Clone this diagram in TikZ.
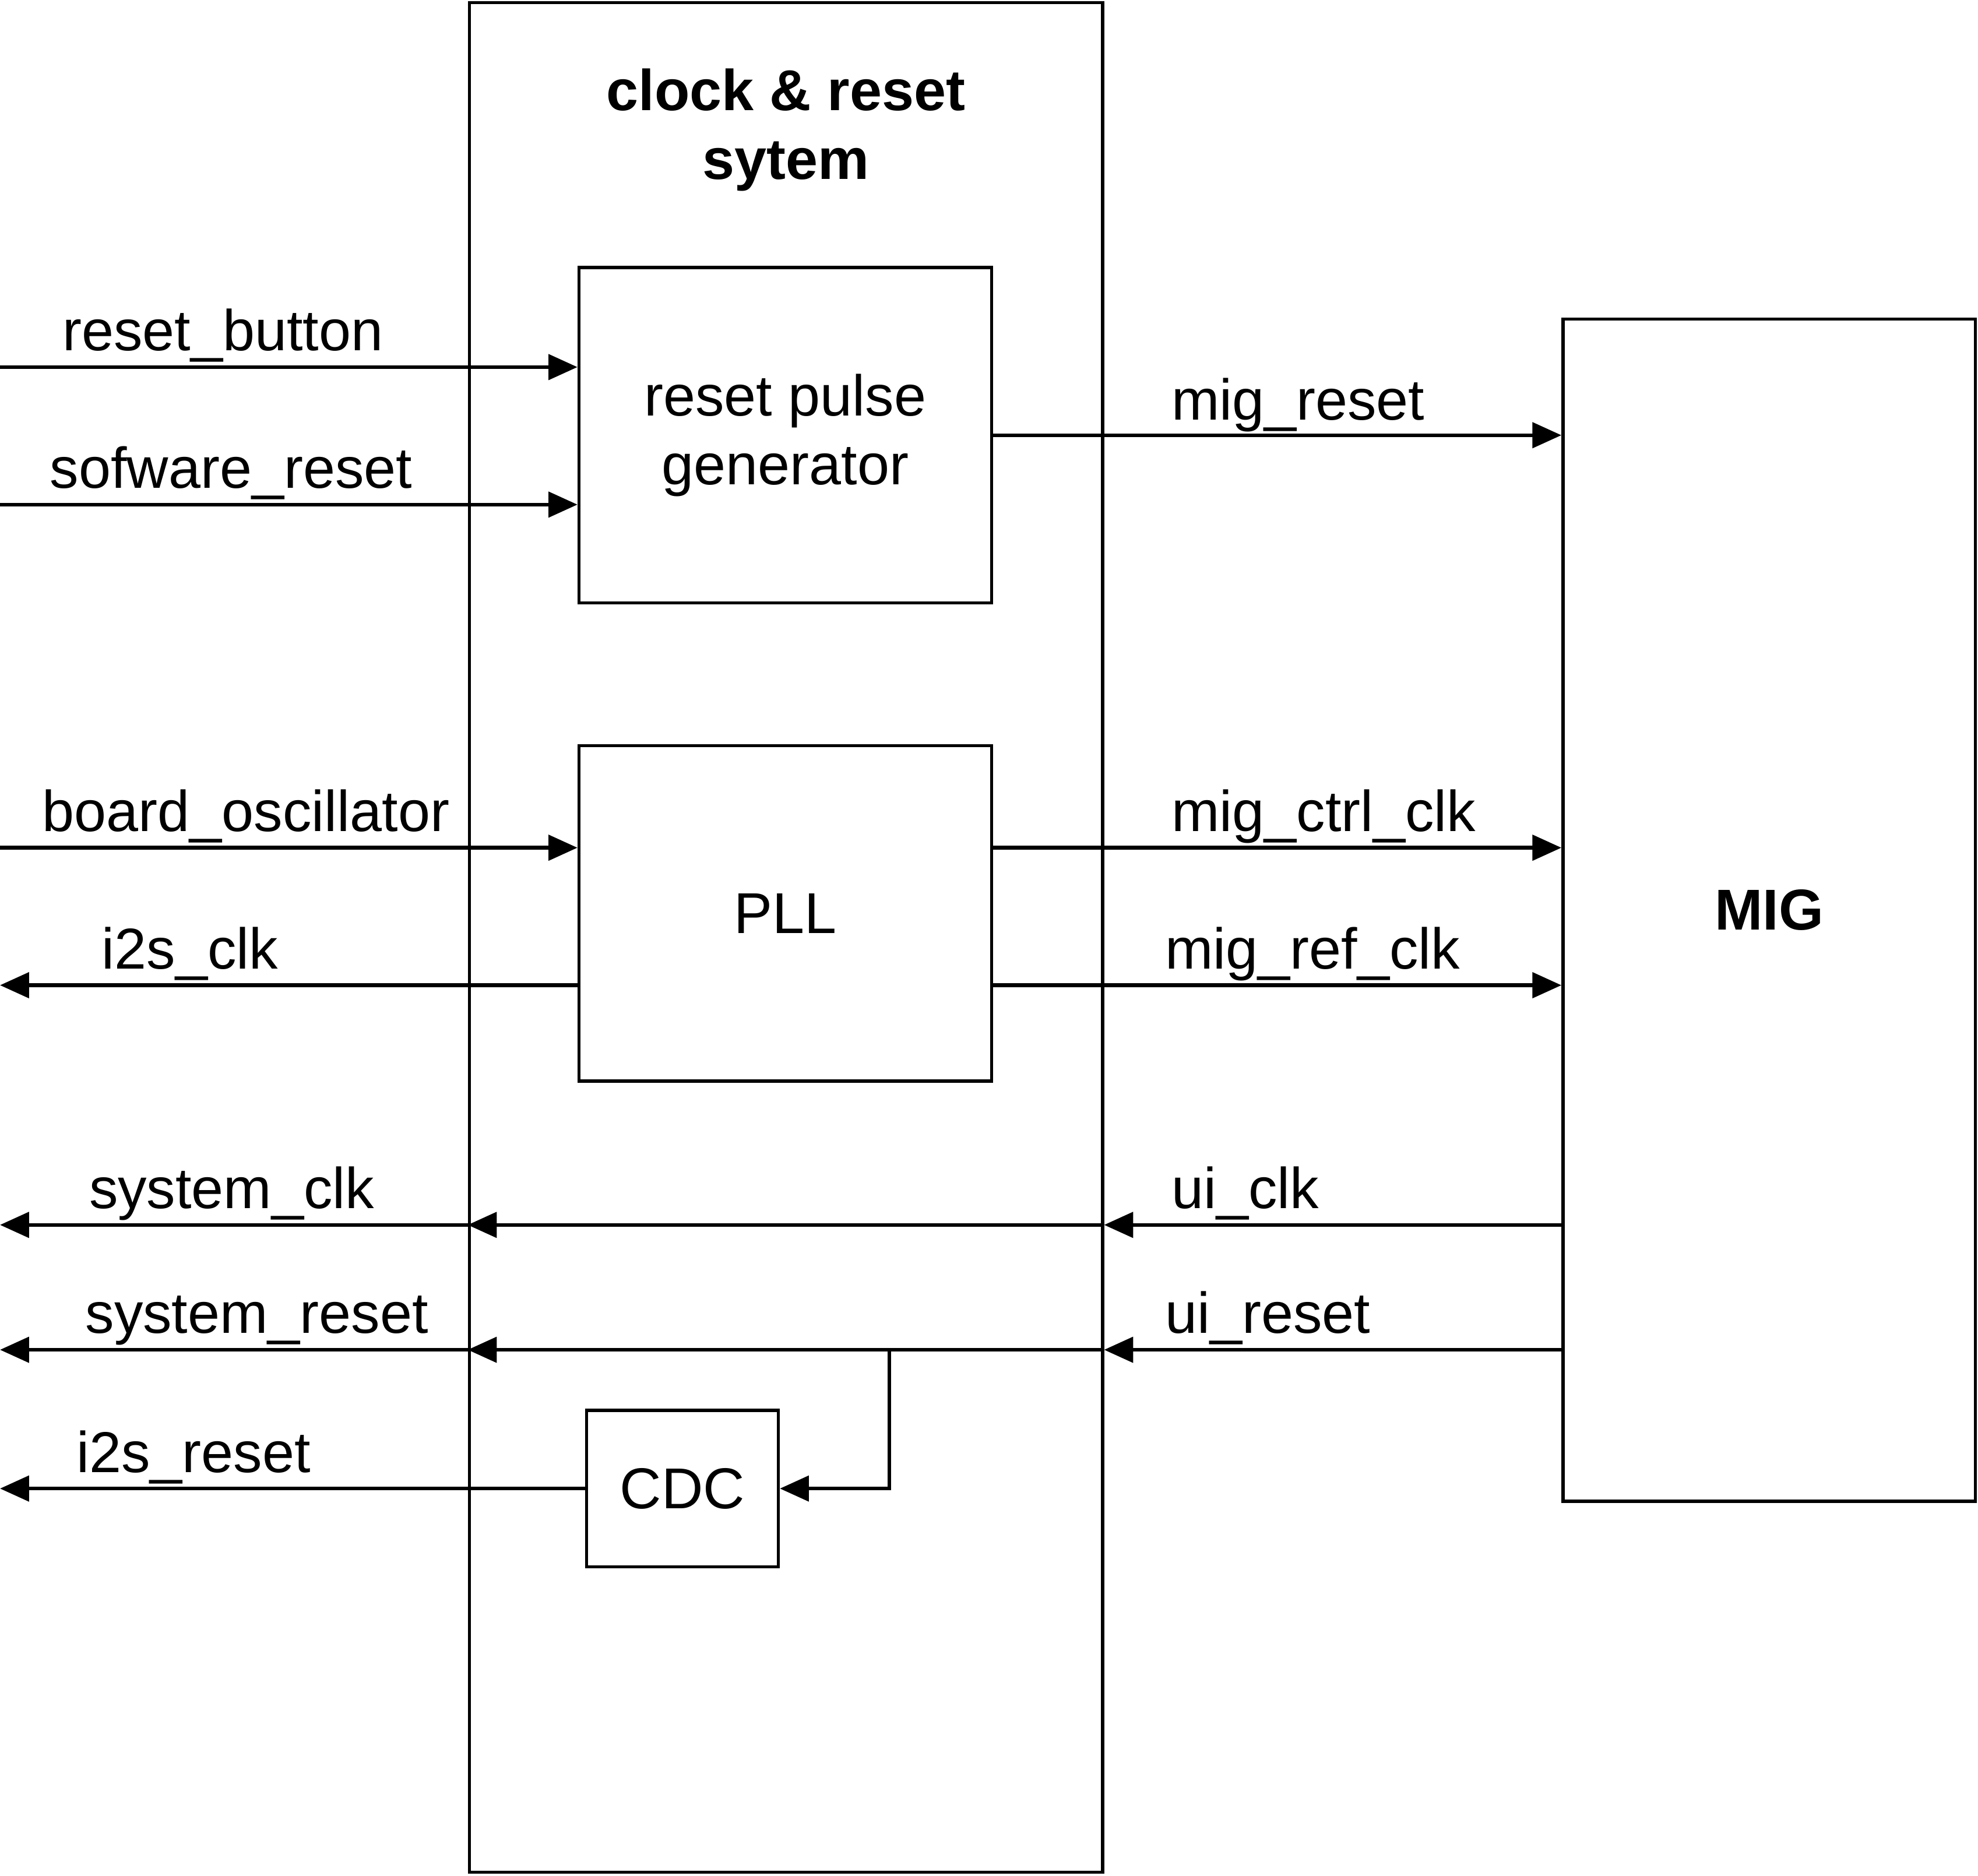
\documentclass[tikz,border=0pt]{standalone}
\usepackage{fontspec}
\setmainfont{Liberation Sans}
\usepackage{tikz}
\usetikzlibrary{arrows.meta, positioning}

\begin{document}
\begin{tikzpicture}[
    block/.style={rectangle, draw, line width=0.7pt, inner sep=0pt, align=center, font=\fontsize{13}{15.6}\selectfont},
    lbl/.style={anchor=base west, inner sep=0pt, font=\fontsize{13}{15.6}\selectfont},
    arrow/.style={-{Triangle[length=0.23cm, width=0.2cm]}, line width=0.85pt},
  ]
    \useasboundingbox (0,0) rectangle (15.68,-14.87);

    % Blocks
    \node[block, minimum width=5.02cm, minimum height=14.82cm] (sys) at (6.23,-7.43) {};
    \node[font=\fontsize{13}{15.6}\selectfont\bfseries, align=center] (title) at (6.23,-1.03) {clock \& reset\\sytem};
    \node[block, minimum width=3.27cm, minimum height=2.66cm] (rstgen) at (6.225,-3.45) {reset pulse\\generator};
    \node[block, minimum width=3.27cm, minimum height=2.66cm] (pll) at (6.225,-7.24) {PLL};
    \node[block, minimum width=1.52cm, minimum height=1.24cm] (cdc) at (5.41,-11.80) {CDC};
    \node[block, minimum width=3.27cm, minimum height=9.37cm, font=\fontsize{13}{15.6}\selectfont\bfseries] (mig) at (14.025,-7.215) {MIG};

    % Free ends at the left edge
    \coordinate (rowRB) at (0,-2.91);
    \coordinate (rowSW) at (0,-4.00);
    \coordinate (rowOSC) at (0,-6.72);
    \coordinate (rowI2S) at (0,-7.81);
    \coordinate (rowSC) at (0,-9.71);
    \coordinate (rowSR) at (0,-10.70);
    \coordinate (rowIR) at (0,-11.80);
    \coordinate (split) at (7.05,-10.70);

    % Arrows
    \draw[arrow] (rowRB) -- (rowRB -| rstgen.west);
    \draw[arrow] (rowSW) -- (rowSW -| rstgen.west);
    \draw[arrow] (rowOSC) -- (rowOSC -| pll.west);
    \draw[arrow] (rowI2S -| pll.west) -- (rowI2S);
    \draw[arrow] (rstgen.east) -- (rstgen.east -| mig.west);
    \draw[arrow] (rowOSC -| pll.east) -- (rowOSC -| mig.west);
    \draw[arrow] (rowI2S -| pll.east) -- (rowI2S -| mig.west);
    \draw[arrow] (rowSC -| mig.west) -- (rowSC -| sys.east);
    \draw[arrow] (rowSC -| sys.east) -- (rowSC -| sys.west);
    \draw[arrow] (rowSC -| sys.west) -- (rowSC);
    \draw[arrow] (rowSR -| mig.west) -- (rowSR -| sys.east);
    \draw[arrow] (rowSR -| sys.east) -- (rowSR -| sys.west);
    \draw[arrow] (rowSR -| sys.west) -- (rowSR);
    \draw[arrow] (split) |- (cdc.east);
    \draw[arrow] (cdc.west) -- (rowIR);

    % Labels
    \node[lbl] (lblRB) at (0.49,-2.78) {reset\_button};
    \node[lbl] (lblSW) at (0.39,-3.87) {sofware\_reset};
    \node[lbl] (lblOSC) at (0.33,-6.59) {board\_oscillator};
    \node[lbl] (lblI2S) at (0.80,-7.68) {i2s\_clk};
    \node[lbl] (lblSC) at (0.70,-9.58) {system\_clk};
    \node[lbl] (lblSR) at (0.67,-10.57) {system\_reset};
    \node[lbl] (lblIR) at (0.60,-11.67) {i2s\_reset};
    \node[lbl] (lblMR) at (9.28,-3.33) {mig\_reset};
    \node[lbl] (lblMC) at (9.28,-6.59) {mig\_ctrl\_clk};
    \node[lbl] (lblMF) at (9.23,-7.68) {mig\_ref\_clk};
    \node[lbl] (lblUC) at (9.28,-9.58) {ui\_clk};
    \node[lbl] (lblUR) at (9.23,-10.57) {ui\_reset};

  \end{tikzpicture}
\end{document}
